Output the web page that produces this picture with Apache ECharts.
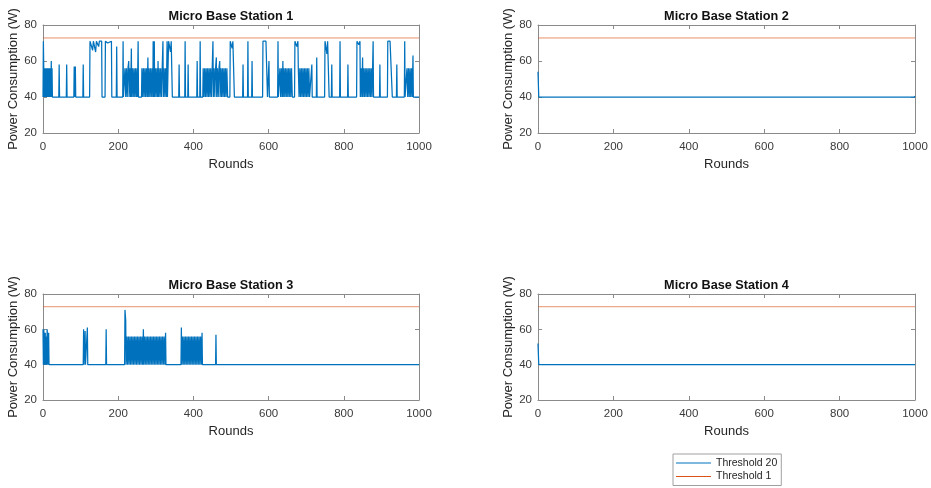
<!DOCTYPE html>
<html>
<head>
<meta charset="utf-8">
<script src="https://cdn.jsdelivr.net/npm/echarts@6/dist/echarts.min.js"></script>
<style>
html,body{margin:0;padding:0;background:#fff;}
#chart{width:931px;height:488px;}
</style>
</head>
<body>
<div id="chart"></div>
<script>
// ---- data ----
const titles = ['Micro Base Station 1', 'Micro Base Station 2', 'Micro Base Station 3', 'Micro Base Station 4'];
const xTicks = [0, 200, 400, 600, 800, 1000];
const yTicks = [20, 40, 60, 80];
const legendNames = ['Threshold 20', 'Threshold 1'];
const threshold1Value = 72.8;

// [round, power] pairs
const station1 = [
[0,40],[1,71],[2,56],[3,40],[4,56],[5,40],[6,56],[7,40],[8,56],[9,40],[10,56],[11,40],[12,56],[13,40],[14,56],[15,40],[16,56],[17,40],[18,56],[19,40],[20,56],[21,40],[22,60],[23,40],[24,56],[25,40],
[42,40],[43,58],[44,40],
[62,40],[63,58],[64,40],
[82,40],[83,57],[84,40],[86,57],[87,40],
[106,40],[107,58],[108,40],
[124,40],[125,71],[130,71],[132,66],[134,71],[138,71],[140,65],[142,71],[146,71],[148,68],[150,71],[154,71],[156,71],[157,40],[165,40],[166,71],[170,71],[172,70],[176,71],[182,71],[183,40],
[195,40],[196,68],[197,40],
[212,40],[213,71],[214,40],
[218,56],[220,40],[222,56],[224,40],[226,56],[228,60],[229,40],[231,56],[233,40],[235,67],[236,40],[238,56],[240,40],[242,56],[244,40],[246,56],[248,40],[250,56],[251,40],
[253,71],[254,40],
[262,40],[263,56],[265,40],[267,56],[269,40],[271,56],[273,40],[275,56],[277,40],[279,62],[280,40],[282,56],[284,40],[286,56],[288,40],[290,56],[292,40],[293,71],[294,40],[296,71],[297,40],[299,56],[301,40],[303,56],[305,40],[306,60],[307,40],[309,56],[311,40],[313,56],[315,40],[317,56],[319,71],[320,40],[322,56],[324,40],[326,56],[328,40],[330,71],[331,40],
[333,40],[334,71],[337,71],[339,65],[341,71],[343,71],[344,40],
[361,40],[362,58],[363,40],
[377,40],[378,71],[379,40],
[385,40],[386,58],[387,40],
[409,40],[410,60],[411,40],
[417,40],[418,71],[419,40],
[425,40],[426,56],[428,40],[430,56],[432,40],[434,56],[436,40],[438,56],[440,40],[442,56],[444,40],[446,56],[448,40],[450,56],[452,71],[453,40],[455,56],[457,40],[459,56],[461,62],[462,40],[464,56],[466,40],[468,56],[470,60],[471,40],[473,56],[475,40],[477,56],[479,40],[481,56],[483,40],[485,56],[487,40],[489,56],[491,40],
[497,40],[498,71],[501,71],[503,67],[505,71],[508,71],[509,40],
[531,40],[532,58],[533,40],
[544,40],[545,71],[546,40],
[555,40],[556,60],[557,40],
[584,40],[585,71],[590,71],[593,71],[596,71],[597,40],
[600,40],[601,60],[602,40],
[624,40],[625,71],[626,40],
[629,40],[630,56],[632,40],[634,56],[636,40],[638,60],[639,40],[641,56],[643,40],[645,56],[647,40],[649,56],[651,40],[653,56],[655,40],[657,56],[659,40],[661,56],[663,40],
[669,40],[670,71],[673,71],[675,68],[678,71],[679,56],[681,40],
[683,56],[685,40],[687,56],[689,40],[691,56],[693,40],[695,56],[697,40],[699,56],[701,40],[703,56],[705,40],[707,56],[709,40],
[714,40],[715,58],[716,40],
[727,40],[728,62],[729,40],
[749,40],[750,71],[753,71],[755,64],[757,71],[760,71],[761,40],
[767,40],[768,58],[769,40],
[789,40],[790,71],[791,40],
[810,40],[811,58],[812,40],
[834,40],[835,71],[838,71],[840,69],[843,71],[844,40],
[846,56],[848,40],[850,62],[851,40],[853,56],[855,40],[857,56],[859,40],[861,56],[863,40],[865,56],[867,40],[869,56],[871,40],[873,56],[875,40],
[877,40],[878,71],[879,40],
[895,40],[896,58],[897,40],
[916,40],[917,71],[920,71],[923,71],[926,71],[928,71],[929,40],
[940,40],[941,58],[942,40],
[961,40],[962,71],[963,40],
[967,40],[968,56],[970,40],[972,56],[974,40],[976,56],[978,40],[980,56],[982,40],[984,63],[985,40],
[1000,40]
];

const station2 = [[0,54],[2,40],[998,40],[1000,40.5]];

const station3 = [
[0,60],[1,40],[2,60],[3,56],[4,40],[6,58],[7,40],[9,56],[10,40],[11,60],[12,56],[13,40],[15,58],[16,40],
[107,40],[108,60],[109,40],[111,40],[112,59],[113,40],[117,40],[118,61],[119,40],
[167,40],[168,60],[169,40],
[217,40],[218,71],[220,65],[221,40],[223,56],[225,40],[227,56],[229,40],[231,56],[233,40],[235,56],[237,40],[239,56],[241,40],[243,56],[245,40],[247,56],[249,40],[251,56],[253,40],[255,56],[257,40],[259,56],[261,40],[263,56],[265,40],[267,60],[268,40],[270,56],[272,40],[274,56],[276,40],[278,56],[280,40],[282,56],[284,40],[286,56],[288,40],[290,56],[292,40],[294,56],[296,40],[298,56],[300,40],[302,56],[304,40],[306,56],[308,40],[310,56],[312,40],[314,56],[316,40],[318,56],[320,40],[322,56],[324,40],[326,58],[327,40],
[367,40],[368,61],[369,40],[371,56],[373,40],[375,56],[377,40],[379,56],[381,40],[383,56],[385,40],[387,56],[389,40],[391,56],[393,40],[395,56],[397,40],[399,56],[401,40],[403,56],[405,40],[407,56],[409,40],[411,56],[413,40],[415,56],[417,40],[419,56],[421,40],[423,58],[424,40],
[459,40],[460,57],[461,40],
[1000,40]
];

const station4 = [[0,52],[2,40],[1000,40]];

const stations = [station1, station2, station3, station4];

// ---- layout / style ----
const BLUE = '#0072BD';
const ORANGE = '#D95319';
const grids = [
  {left: 43, top: 25, width: 376, height: 108},
  {left: 538, top: 25, width: 377, height: 108},
  {left: 43, top: 294, width: 376, height: 106},
  {left: 538, top: 294, width: 377, height: 106}
];
const FONT = 'Liberation Sans, Arial, sans-serif';
const axisLineStyle = {color: '#8a8a8a', width: 1};
const labelColor = '#3a3a3a';

const xMin = xTicks[0], xMax = xTicks[xTicks.length - 1], xInt = xTicks[1] - xTicks[0];
const yMin = yTicks[0], yMax = yTicks[yTicks.length - 1], yInt = yTicks[1] - yTicks[0];
const plain = v => String(v);

const xAxes = [], yAxes = [], series = [], titleArr = [];
grids.forEach((g, i) => {
  xAxes.push({
    type: 'value', gridIndex: i, position: 'bottom', min: xMin, max: xMax, interval: xInt,
    axisLine: {show: true, lineStyle: axisLineStyle, onZero: false},
    axisTick: {show: true, inside: true, length: 4, lineStyle: axisLineStyle},
    axisLabel: {show: true, color: labelColor, fontSize: 11.5, fontFamily: FONT, margin: 8, formatter: plain},
    splitLine: {show: false},
    name: 'Rounds', nameLocation: 'middle', nameGap: 25,
    nameTextStyle: {color: '#262626', fontSize: 13, fontFamily: FONT}
  });
  yAxes.push({
    type: 'value', gridIndex: i, position: 'left', min: yMin, max: yMax, interval: yInt,
    axisLine: {show: true, lineStyle: axisLineStyle, onZero: false},
    axisTick: {show: true, inside: true, length: 4, lineStyle: axisLineStyle},
    axisLabel: {show: true, color: labelColor, fontSize: 11.5, fontFamily: FONT, margin: 6, formatter: plain},
    splitLine: {show: false},
    name: 'Power Consumption (W)', nameLocation: 'middle', nameGap: 21,
    nameTextStyle: {color: '#262626', fontSize: 13, fontFamily: FONT}
  });
  titleArr.push({
    text: titles[i], left: g.left + g.width / 2, top: g.top - 15, textAlign: 'center', padding: 0,
    textStyle: {fontSize: 12.7, fontWeight: 'bold', color: '#111', fontFamily: FONT}
  });
});
grids.forEach((g, i) => {
  xAxes.push({
    type: 'value', gridIndex: i, position: 'top', min: xMin, max: xMax, interval: xInt,
    axisLine: {show: true, lineStyle: axisLineStyle, onZero: false},
    axisTick: {show: true, inside: true, length: 4, lineStyle: axisLineStyle},
    axisLabel: {show: false}, splitLine: {show: false}
  });
  yAxes.push({
    type: 'value', gridIndex: i, position: 'right', min: yMin, max: yMax, interval: yInt,
    axisLine: {show: true, lineStyle: axisLineStyle, onZero: false},
    axisTick: {show: true, inside: true, length: 4, lineStyle: axisLineStyle},
    axisLabel: {show: false}, splitLine: {show: false}
  });
});
grids.forEach((g, i) => {
  series.push({
    name: legendNames[0], type: 'line', xAxisIndex: i, yAxisIndex: i,
    data: stations[i], symbol: 'none', showSymbol: false,
    lineStyle: {color: BLUE, width: 1.25}, itemStyle: {color: BLUE}, z: 3
  });
  series.push({
    name: legendNames[1], type: 'line', xAxisIndex: i, yAxisIndex: i,
    data: [[xMin, threshold1Value], [xMax, threshold1Value]], symbol: 'none', showSymbol: false,
    lineStyle: {color: ORANGE, width: 1, opacity: 0.65}, itemStyle: {color: ORANGE}, z: 2
  });
});

const chart = echarts.init(document.getElementById('chart'), null, {renderer: 'canvas'});
chart.setOption({
  backgroundColor: '#fff',
  animation: false,
  title: titleArr,
  grid: grids.map(g => Object.assign({containLabel: false}, g)),
  xAxis: xAxes,
  yAxis: yAxes,
  legend: {
    data: legendNames, orient: 'vertical', left: 673, top: 454,
    icon: 'rect', itemWidth: 35, itemHeight: 1, itemGap: 1.5, padding: [3, 4, 3, 3],
    borderColor: '#a0a0a0', borderWidth: 1, backgroundColor: '#fff',
    textStyle: {fontSize: 10.5, color: '#262626', fontFamily: FONT, lineHeight: 12}
  },
  series: series
});
</script>
</body>
</html>
